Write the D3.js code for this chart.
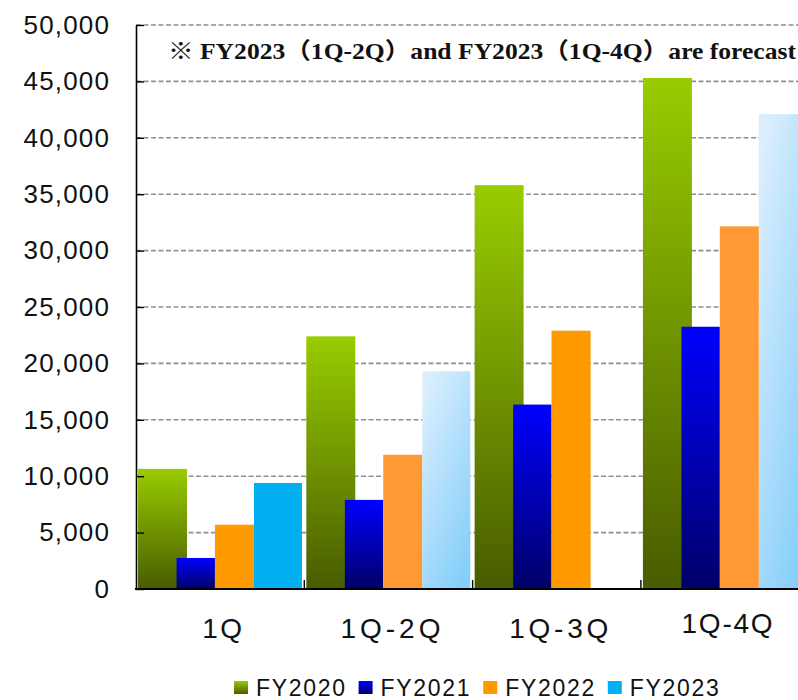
<!DOCTYPE html>
<html>
<head>
<meta charset="utf-8">
<script src="https://cdn.jsdelivr.net/npm/d3@7"></script>
<style>
  html, body { margin: 0; padding: 0; background: #fff; }
  svg { display: block; }
</style>
</head>
<body>
<svg id="chart" width="798" height="700"></svg>
<script>
// Cumulative results by fiscal year
const categories = ["1Q", "1Q-2Q", "1Q-3Q", "1Q-4Q"];
const seriesNames = ["FY2020", "FY2021", "FY2022", "FY2023"];
const fy2020 = [10650, 22400, 35800, 45300];
const fy2021 = [2750, 7900, 16350, 23250];
const fy2022 = [5700, 11900, 22900, 32150];
const fy2023 = [9400, 19300, null, 42100];
const fy2023Forecast = [false, true, false, true];
const yTicks = [0, 5000, 10000, 15000, 20000, 25000, 30000, 35000, 40000, 45000, 50000];
const note = "※ FY2023（1Q-2Q）and FY2023（1Q-4Q）are forecast";

const seriesValues = [fy2020, fy2021, fy2022, fy2023];

const svg = d3.select("#chart");
const W = 798;

// plot geometry
const plotLeft = 136, plotBottom = 589, plotTop = 25;
const bandW = 168.3;

const x = d3.scaleBand()
  .domain(categories)
  .range([plotLeft, plotLeft + bandW * categories.length])
  .padding(0);

const y = d3.scaleLinear().domain([0, 50000]).range([plotBottom, plotTop]);

// position of each series inside a category band (fractions of the band)
const slot = {
  FY2020: [0.012, 0.303],
  FY2021: [0.241, 0.469],
  FY2022: [0.469, 0.701],
  FY2023: [0.701, 0.986]
};

// gradients
const defs = svg.append("defs");
function vGrad(id, stops) {
  const g = defs.append("linearGradient").attr("id", id)
    .attr("x1", 0).attr("y1", 0).attr("x2", 0).attr("y2", 1);
  stops.forEach(([o, c]) => g.append("stop").attr("offset", o).attr("stop-color", c));
}
vGrad("gGreen", [[0, "#99CC00"], [1, "#485C00"]]);
vGrad("gBlue", [[0, "#0000FF"], [1, "#000068"]]);
const fc = defs.append("linearGradient").attr("id", "gSky")
  .attr("x1", 0.2).attr("y1", 0).attr("x2", 0.8).attr("y2", 1);
fc.append("stop").attr("offset", 0).attr("stop-color", "#DAEEFE");
fc.append("stop").attr("offset", 1).attr("stop-color", "#84CEF9");

function fillFor(name, i) {
  if (name === "FY2020") return "url(#gGreen)";
  if (name === "FY2021") return "url(#gBlue)";
  if (name === "FY2022") return i % 2 === 0 ? "#FF9900" : "#FF9933";
  return fy2023Forecast[i] ? "url(#gSky)" : "#00B0F0";
}

// gridlines
svg.append("g")
  .selectAll("line")
  .data(yTicks.filter(d => d > 0))
  .join("line")
  .attr("x1", plotLeft).attr("x2", W)
  .attr("y1", d => y(d)).attr("y2", d => y(d))
  .attr("stroke", "#8f8f8f")
  .attr("stroke-width", 1.6)
  .attr("stroke-dasharray", "5,2.5");

// bars
seriesNames.forEach((name, s) => {
  const vals = seriesValues[s];
  const data = categories.map((c, i) => ({ c, i, v: vals[i] })).filter(d => d.v != null);
  svg.append("g")
    .selectAll("rect")
    .data(data)
    .join("rect")
    .attr("x", d => x(d.c) + slot[name][0] * x.bandwidth())
    .attr("width", (slot[name][1] - slot[name][0]) * x.bandwidth())
    .attr("y", d => y(d.v))
    .attr("height", d => y(0) - y(d.v))
    .attr("fill", d => fillFor(name, d.i));
});

// y axis
const yAxis = d3.axisLeft(y)
  .tickValues(yTicks)
  .tickSizeInner(-8)
  .tickSizeOuter(0)
  .tickPadding(27)
  .tickFormat(d3.format(","));
const ya = svg.append("g").attr("transform", `translate(${plotLeft},0)`).call(yAxis);
ya.select(".domain").attr("stroke", "#000").attr("stroke-width", 1.6);
ya.selectAll(".tick line").attr("stroke", "#000").attr("stroke-width", 1.4);
ya.selectAll(".tick text")
  .attr("font-family", "'Liberation Sans', Arial, sans-serif")
  .attr("font-size", 26)
  .attr("fill", "#111")
  .attr("letter-spacing", 1.2)
  .attr("dx", 1.2);

// x axis
const xa = svg.append("g");
xa.append("line")
  .attr("x1", plotLeft - 1).attr("x2", W)
  .attr("y1", y(0)).attr("y2", y(0))
  .attr("stroke", "#000").attr("stroke-width", 2);
xa.selectAll("line.tk")
  .data(categories.slice(1))
  .join("line")
  .attr("class", "tk")
  .attr("x1", d => x(d)).attr("x2", d => x(d))
  .attr("y1", y(0)).attr("y2", y(0) - 9)
  .attr("stroke", "#000").attr("stroke-width", 1.4);

const labelWidth = { "1Q": 40, "1Q-2Q": 100, "1Q-3Q": 99, "1Q-4Q": 91 };
const labelBase = { "1Q": 638, "1Q-2Q": 638, "1Q-3Q": 638, "1Q-4Q": 633 };
xa.selectAll("text")
  .data(categories)
  .join("text")
  .attr("x", d => x(d) + x.bandwidth() / 2 + 2)
  .attr("y", d => labelBase[d])
  .attr("text-anchor", "middle")
  .attr("font-family", "'Liberation Sans', Arial, sans-serif")
  .attr("font-size", 28)
  .attr("fill", "#111")
  .attr("textLength", d => labelWidth[d])
  .attr("lengthAdjust", "spacing")
  .text(d => d);

// forecast note
svg.append("text")
  .attr("x", 168)
  .attr("y", 59)
  .attr("font-family", "'Liberation Serif', 'Noto Sans CJK JP', serif")
  .attr("font-weight", "bold")
  .attr("font-size", 23)
  .attr("fill", "#111")
  .attr("textLength", 628)
  .attr("lengthAdjust", "spacingAndGlyphs")
  .text(note);

// legend
const legendSwatch = ["url(#gGreen)", "url(#gBlue)", "#FF9900", "#00B0F0"];
const lg = svg.append("g");
const items = lg.selectAll("g")
  .data(seriesNames)
  .join("g")
  .attr("transform", (d, i) => `translate(${234 + i * 124.6},0)`);
items.append("rect")
  .attr("x", 0).attr("y", 681)
  .attr("width", 14).attr("height", 13)
  .attr("fill", (d, i) => legendSwatch[i]);
items.append("text")
  .attr("x", 22).attr("y", 696)
  .attr("font-family", "'Liberation Sans', Arial, sans-serif")
  .attr("font-size", 23)
  .attr("fill", "#111")
  .attr("textLength", 89)
  .attr("lengthAdjust", "spacing")
  .text(d => d);
</script>
</body>
</html>
